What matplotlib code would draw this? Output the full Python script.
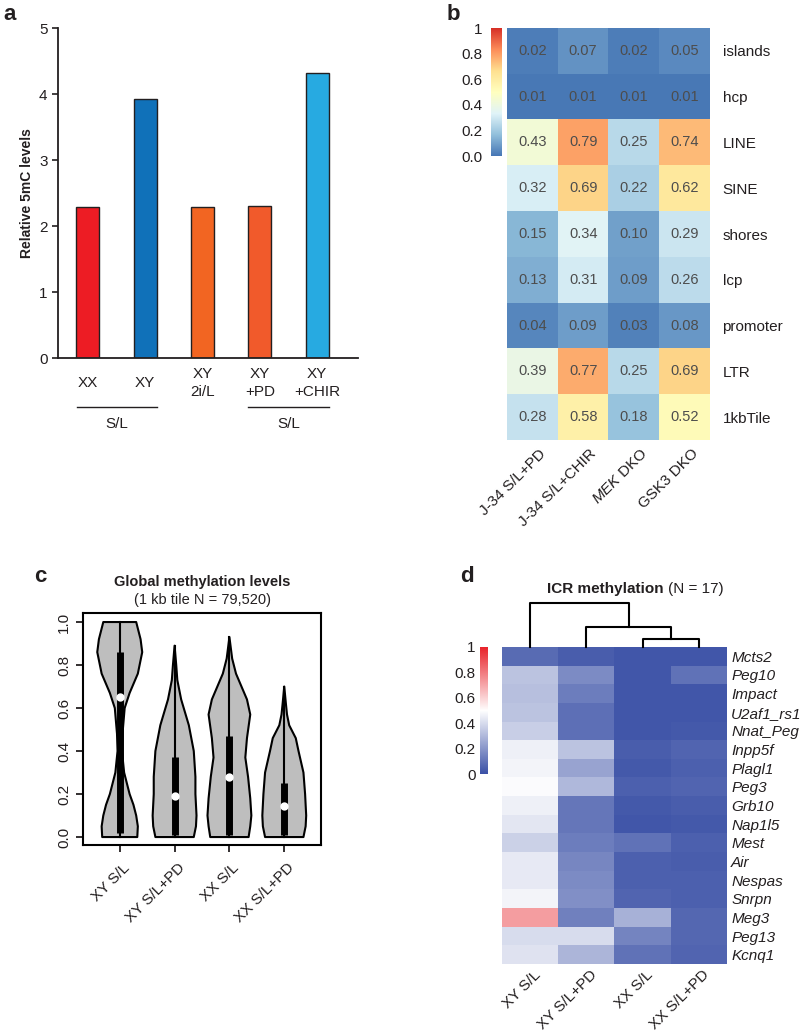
import numpy as np
import matplotlib
matplotlib.use('Agg')
import matplotlib.pyplot as plt
from matplotlib.colors import LinearSegmentedColormap

plt.rcParams['font.family'] = ['Liberation Sans', 'DejaVu Sans']
plt.rcParams['mathtext.fontset'] = 'custom'
plt.rcParams['mathtext.it'] = 'Liberation Sans:italic'
plt.rcParams['mathtext.rm'] = 'Liberation Sans'

W, H = 800, 1031
TXT = '#231F20'

# ---- panel a: relative 5mC levels
a_labels = ['XX', 'XY', 'XY\n2i/L', 'XY\n+PD', 'XY\n+CHIR']
a_values = [2.29, 3.92, 2.29, 2.30, 4.32]
a_colors = ['#ED1C24', '#1071B9', '#F26522', '#F15A2B', '#27AAE1']

# ---- panel b: methylation per genomic feature
b_rows = ['islands', 'hcp', 'LINE', 'SINE', 'shores', 'lcp', 'promoter', 'LTR', '1kbTile']
b_cols = ['J-34 S/L+PD', 'J-34 S/L+CHIR', r'$\mathit{MEK}$ DKO', 'GSK3 DKO']
b_values = [
    [0.02, 0.07, 0.02, 0.05],
    [0.01, 0.01, 0.01, 0.01],
    [0.43, 0.79, 0.25, 0.74],
    [0.32, 0.69, 0.22, 0.62],
    [0.15, 0.34, 0.10, 0.29],
    [0.13, 0.31, 0.09, 0.26],
    [0.04, 0.09, 0.03, 0.08],
    [0.39, 0.77, 0.25, 0.69],
    [0.28, 0.58, 0.18, 0.52],
]

# ---- panel c: violin outlines (level, half width)
c_labels = ['XY S/L', 'XY S/L+PD', 'XX S/L', 'XX S/L+PD']
c_levels = [
    [0, 0.05, 0.1, 0.15, 0.2, 0.3, 0.4, 0.48, 0.6, 0.67, 0.76, 0.86, 0.92, 1.0],
    [0, 0.05, 0.1, 0.2, 0.28, 0.4, 0.52, 0.64, 0.73, 0.8, 0.89],
    [0, 0.05, 0.1, 0.18, 0.28, 0.37, 0.46, 0.57, 0.64, 0.76, 0.83, 0.93],
    [0, 0.05, 0.1, 0.2, 0.3, 0.4, 0.46, 0.52, 0.57, 0.62, 0.70],
]
c_halfwidth = [
    [0.32, 0.33, 0.30, 0.25, 0.18, 0.08, 0.04, 0.05, 0.09, 0.18, 0.33, 0.41, 0.38, 0.30],
    [0.35, 0.39, 0.40, 0.38, 0.38, 0.35, 0.26, 0.12, 0.05, 0.03, 0.0],
    [0.35, 0.38, 0.40, 0.38, 0.34, 0.29, 0.32, 0.38, 0.32, 0.12, 0.05, 0.0],
    [0.35, 0.39, 0.40, 0.38, 0.35, 0.26, 0.21, 0.09, 0.05, 0.03, 0.0],
]
c_median = [0.65, 0.19, 0.28, 0.145]
c_q1 = [0.02, 0.01, 0.01, 0.01]
c_q3 = [0.86, 0.37, 0.47, 0.25]
c_whisk_lo = [0.0, 0.0, 0.0, 0.0]
c_whisk_hi = [1.0, 0.89, 0.93, 0.70]

# ---- panel d: ICR methylation
d_rows = ['Mcts2', 'Peg10', 'Impact', 'U2af1_rs1', 'Nnat_Peg', 'Inpp5f', 'Plagl1', 'Peg3',
          'Grb10', 'Nap1l5', 'Mest', 'Air', 'Nespas', 'Snrpn', 'Meg3', 'Peg13', 'Kcnq1']
d_cols = ['XY S/L', 'XY S/L+PD', 'XX S/L', 'XX S/L+PD']
d_xy_sl = [0.08, 0.33, 0.32, 0.33, 0.36, 0.46, 0.47, 0.49, 0.46, 0.43, 0.37, 0.44, 0.44, 0.47, 0.72, 0.40, 0.42]
d_xy_pd = [0.04, 0.17, 0.13, 0.09, 0.09, 0.33, 0.24, 0.30, 0.11, 0.11, 0.13, 0.16, 0.17, 0.18, 0.14, 0.40, 0.29]
d_xx_sl = [0.02, 0.02, 0.02, 0.02, 0.02, 0.04, 0.03, 0.05, 0.03, 0.02, 0.10, 0.05, 0.05, 0.06, 0.28, 0.15, 0.10]
d_xx_pd = [0.02, 0.10, 0.02, 0.02, 0.03, 0.06, 0.05, 0.06, 0.04, 0.03, 0.05, 0.04, 0.05, 0.05, 0.07, 0.07, 0.06]
d_merge_heights = [0.18, 0.45, 1.0]


def px_axes(fig, left, top, right, bottom):
    return fig.add_axes([left / W, 1 - bottom / H, (right - left) / W, (bottom - top) / H])


fig = plt.figure(figsize=(W / 100, H / 100), dpi=100)

# panel letters
for letter, (x, y) in {'a': (10, 14), 'b': (453, 14), 'c': (40, 577), 'd': (467, 577)}.items():
    fig.text(x / W, 1 - y / H, letter, fontsize=16, fontweight='bold', ha='center', va='center', color=TXT)

# ================= a
ax = px_axes(fig, 58, 28, 358, 358)
ax.bar(range(len(a_values)), a_values, width=0.4, color=a_colors, edgecolor=TXT, linewidth=1)
ax.set_xlim(-0.52, 4.71)
ax.set_ylim(0, 5)
for s in ['top', 'right']:
    ax.spines[s].set_visible(False)
for s in ['left', 'bottom']:
    ax.spines[s].set_linewidth(1.3)
    ax.spines[s].set_color(TXT)
ax.set_xticks([])
ax.set_yticks(range(6))
ax.tick_params(axis='y', labelsize=11, length=4, width=1.2, colors=TXT)
ax.text(-0.103, 0.5, 'Relative 5mC levels', rotation=90, ha='center', va='center',
        fontsize=10, fontweight='bold', transform=ax.transAxes, color=TXT)
xt = ax.get_xaxis_transform()
for i, lab in enumerate(a_labels):
    ax.text(i, -0.076, lab, transform=xt, ha='center', va='center', fontsize=11,
            linespacing=1.3, color=TXT)
for x0, x1 in [(-0.19, 1.2), (2.79, 4.2)]:
    ax.plot([x0, x1], [-0.148, -0.148], transform=xt, clip_on=False, color=TXT, lw=1)
    ax.text((x0 + x1) / 2, -0.2, 'S/L', transform=xt, ha='center', va='center', fontsize=11, color=TXT)

# ================= b
cmap_b = LinearSegmentedColormap.from_list(
    'rdylbu7', ['#4575B4', '#91BFDB', '#E0F3F8', '#FFFFBF', '#FEE090', '#FC8D59', '#D73027'])
axb = px_axes(fig, 507, 28, 710, 440)
imb = axb.imshow(np.array(b_values), cmap=cmap_b, vmin=0, vmax=1, aspect='auto')
for i, row in enumerate(b_values):
    for j, v in enumerate(row):
        axb.text(j, i, f'{v:.2f}', ha='center', va='center', fontsize=10.5, color='#4D4D4D')
for s in axb.spines.values():
    s.set_visible(False)
axb.set_xticks([])
axb.yaxis.tick_right()
axb.set_yticks(range(len(b_rows)))
axb.set_yticklabels(b_rows)
axb.tick_params(axis='y', length=0, pad=9, labelsize=11, colors=TXT)
for j, lab in enumerate(b_cols):
    axb.text(j + 0.22, 8.5 + 0.25, lab, rotation=45, rotation_mode='anchor', ha='right', va='center',
             fontsize=11, color=TXT)

caxb = px_axes(fig, 491, 28, 502, 156)
cbb = fig.colorbar(imb, cax=caxb)
cbb.outline.set_visible(False)
caxb.yaxis.tick_left()
caxb.set_yticks([0, 0.2, 0.4, 0.6, 0.8, 1.0])
caxb.set_yticklabels(['0.0', '0.2', '0.4', '0.6', '0.8', '1'])
caxb.tick_params(length=0, pad=6, labelsize=11, colors=TXT)

# ================= c
axc = px_axes(fig, 83, 613, 321, 845)
for k in range(len(c_labels)):
    pos = k + 1
    yv = np.array(c_levels[k])
    hw = np.array(c_halfwidth[k])
    xs = np.concatenate([pos - hw, (pos + hw)[::-1]])
    ys = np.concatenate([yv, yv[::-1]])
    axc.fill(xs, ys, facecolor='#BEBEBE', edgecolor='black', lw=1.5, joinstyle='round', zorder=2)
    axc.plot([pos, pos], [c_whisk_lo[k], c_whisk_hi[k]], color='black', lw=1.5, zorder=3)
    axc.plot([pos, pos], [c_q1[k], c_q3[k]], color='black', lw=5, solid_capstyle='butt', zorder=3)
    axc.plot(pos, c_median[k], 'o', color='white', ms=6, mec='none', zorder=4)
axc.set_xlim(0.33, 4.67)
axc.set_ylim(-0.037, 1.042)
axc.set_xticks(range(1, 5))
axc.set_xticklabels([])
axc.set_yticks([0, 0.2, 0.4, 0.6, 0.8, 1.0])
axc.set_yticklabels(['0.0', '0.2', '0.4', '0.6', '0.8', '1.0'], rotation=90, va='center')
axc.tick_params(length=5, width=1.3, labelsize=11, colors=TXT)
for s in axc.spines.values():
    s.set_linewidth(1.5)
xtc = axc.get_xaxis_transform()
for k, lab in enumerate(c_labels):
    axc.text(k + 1 + 0.14, -0.09, lab, transform=xtc, rotation=45, rotation_mode='anchor',
             ha='right', va='center', fontsize=11, color=TXT)
fig.text(202 / W, 1 - 582 / H, 'Global methylation levels', fontsize=10.5, fontweight='bold',
         ha='center', va='center', color=TXT)
fig.text(202 / W, 1 - 600 / H, '(1 kb tile N = 79,520)', fontsize=10.5, ha='center', va='center', color=TXT)

# ================= d
cmap_d = LinearSegmentedColormap.from_list('bwr_d', ['#3A50A6', '#FFFFFF', '#E8222A'])
d_values = np.array([d_xy_sl, d_xy_pd, d_xx_sl, d_xx_pd]).T
axd = px_axes(fig, 502, 647, 727, 964)
imd = axd.imshow(d_values, cmap=cmap_d, vmin=0, vmax=1, aspect='auto')
for s in axd.spines.values():
    s.set_visible(False)
axd.set_xticks([])
axd.yaxis.tick_right()
axd.set_yticks(range(len(d_rows)))
axd.set_yticklabels(d_rows, fontstyle='italic')
axd.tick_params(axis='y', length=0, pad=3, labelsize=11, colors=TXT)
for j, lab in enumerate(d_cols):
    axd.text(j + 0.15, 16.5 + 0.45, lab, rotation=45, rotation_mode='anchor', ha='right', va='center',
             fontsize=11, color=TXT)

# dendrogram over the columns
axt = px_axes(fig, 502, 603, 727, 647)
h34, h234, htop = d_merge_heights
axt.plot([2.5, 2.5, 3.5, 3.5], [0, h34, h34, 0], color='black', lw=1.5, clip_on=False)
axt.plot([1.5, 1.5, 3.0, 3.0], [0, h234, h234, h34], color='black', lw=1.5, clip_on=False)
axt.plot([0.5, 0.5, 2.25, 2.25], [0, htop, htop, h234], color='black', lw=1.5, clip_on=False)
axt.set_xlim(0, 4)
axt.set_ylim(0, 1)
axt.axis('off')

caxd = px_axes(fig, 480, 647, 488, 774)
cbd = fig.colorbar(imd, cax=caxd)
cbd.outline.set_visible(False)
caxd.yaxis.tick_left()
caxd.set_yticks([0, 0.2, 0.4, 0.6, 0.8, 1.0])
caxd.set_yticklabels(['0', '0.2', '0.4', '0.6', '0.8', '1'])
caxd.tick_params(length=0, pad=3, labelsize=11, colors=TXT)

fig.text(664 / W, 1 - 589 / H, 'ICR methylation', fontsize=11, fontweight='bold', ha='right', va='center', color=TXT)
fig.text(668 / W, 1 - 589 / H, '(N = 17)', fontsize=11, ha='left', va='center', color=TXT)

fig.savefig('out.png', dpi=100)
